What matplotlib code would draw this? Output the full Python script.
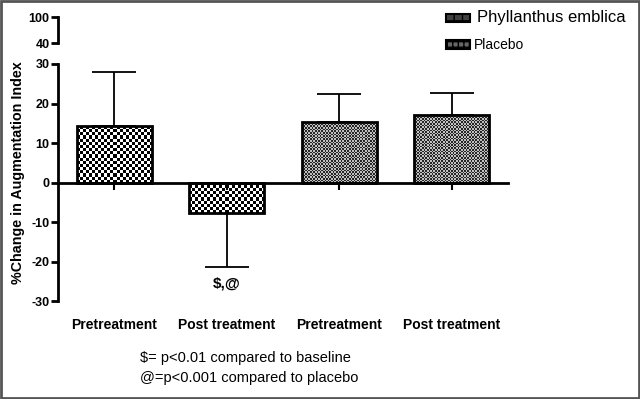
import numpy as np
import matplotlib.pyplot as plt
from matplotlib.patches import Rectangle

plt.rcParams["font.family"] = ["Liberation Sans", "DejaVu Sans"]

groups = ["Pretreatment", "Post treatment", "Pretreatment", "Post treatment"]
means = [14.4, -7.8, 15.3, 17.2]
errors = [13.7, 13.7, 7.1, 5.4]
treatment = ["Phyllanthus emblica", "Phyllanthus emblica", "Placebo", "Placebo"]
main_ticks = [-30, -20, -10, 0, 10, 20, 30]
top_ticks = [40, 100]
footnotes = ["$= p<0.01 compared to baseline", "@=p<0.001 compared to placebo"]

# checker textures: (cell size in px, light colour, dark colour)
textures = {
    "Phyllanthus emblica": (3.0, 1.0, 0.0),
    "Placebo": (1.6, 0.75, 0.15),
}


def checker(ax, patch, cell_px, light, dark):
    x0, y0 = patch.get_x(), patch.get_y()
    w, h = patch.get_width(), patch.get_height()
    p0 = ax.transData.transform((x0, y0))
    p1 = ax.transData.transform((x0 + w, y0 + h))
    nx = max(1, int(abs(p1[0] - p0[0]) / cell_px))
    ny = max(1, int(abs(p1[1] - p0[1]) / cell_px))
    ii, jj = np.indices((ny, nx))
    img = np.where((ii + jj) % 2 == 0, light, dark)
    ymin, ymax = sorted([y0, y0 + h])
    im = ax.imshow(img, cmap="gray", vmin=0, vmax=1, interpolation="nearest",
                   extent=(x0, x0 + w, ymin, ymax), aspect="auto", zorder=1)
    im.set_clip_path(patch)


fig = plt.figure(figsize=(6.4, 3.99), dpi=100)
ax = fig.add_axes([0.0906, 0.2456, 0.703, 0.594])
ax_top = fig.add_axes([0.0906, 0.892, 0.703, 0.065])

x = np.arange(len(means))
bars = ax.bar(x, means, width=0.67, facecolor="none", edgecolor="black",
              linewidth=2, zorder=2)
ax.set_xlim(-0.5, 3.5)
ax.set_ylim(-30, 30)
for b, t in zip(bars, treatment):
    checker(ax, b, *textures[t])

# one-sided error bars
lower = [e if m < 0 else 0 for m, e in zip(means, errors)]
upper = [e if m >= 0 else 0 for m, e in zip(means, errors)]
ax.errorbar(x, means, yerr=[lower, upper], fmt="none", ecolor="black",
            elinewidth=1.3, capsize=16, capthick=1.3, zorder=0)

ax.spines["top"].set_visible(False)
ax.spines["right"].set_visible(False)
ax.spines["left"].set_linewidth(2)
ax.spines["bottom"].set_position(("data", 0))
ax.spines["bottom"].set_linewidth(2)
ax.spines["bottom"].set_zorder(3)
ax.set_yticks(main_ticks)
ax.set_yticklabels([str(t) for t in main_ticks], fontsize=9, fontweight="bold")
ax.tick_params(axis="y", length=5, width=2, pad=1)
ax.set_xticks(x)
ax.set_xticklabels([])
ax.tick_params(axis="x", length=5, width=1.5, direction="out")
ax.set_ylabel("%Change in Augmentation Index", fontsize=10.3, fontweight="bold")
ax.yaxis.set_label_coords(-0.073, 0.54)

for xi, g in zip(x, groups):
    ax.text(xi, -0.10, g, transform=ax.get_xaxis_transform(), ha="center",
            va="center", fontsize=10, fontweight="bold")

ax.text(x[1], means[1] - errors[1] - 2.3, r"\$,@", ha="center", va="top",
        fontsize=11, fontweight="bold")

# broken-off upper segment of the y axis
ax_top.set_ylim(40, 100)
ax_top.set_xlim(0, 1)
for s in ["top", "right", "bottom"]:
    ax_top.spines[s].set_visible(False)
ax_top.spines["left"].set_linewidth(2)
ax_top.set_xticks([])
ax_top.set_yticks(top_ticks)
ax_top.set_yticklabels([str(t) for t in top_ticks], fontsize=9, fontweight="bold")
ax_top.tick_params(axis="y", length=5, width=2, pad=1)
ax_top.patch.set_alpha(0)

# legend drawn by hand (entries use different sizes in the original)
legend_rows = [(0.955, 12), (0.888, 10)]
for (yy, fs), name in zip(legend_rows, ["Phyllanthus emblica", "Placebo"]):
    cell, light, dark = textures[name]
    fig.patches.append(Rectangle((0.697, yy - 0.011), 0.038, 0.022,
                                 transform=fig.transFigure,
                                 facecolor=str(dark + 0.25 if dark < 0.5 else dark),
                                 edgecolor="black", linewidth=1.5,
                                 hatch="+++" if name == "Placebo" else "++"))
    fig.text(0.745 if name != "Placebo" else 0.740, yy, name, fontsize=fs,
             va="center", ha="left")

fig.text(0.219, 0.103, footnotes[0], fontsize=10.5, va="center", ha="left")
fig.text(0.219, 0.053, footnotes[1], fontsize=10.5, va="center", ha="left")

fig.patches.append(Rectangle((0.002, 0.003), 0.996, 0.994,
                             transform=fig.transFigure, fill=False,
                             edgecolor="#555555", linewidth=2))

fig.savefig("out.png", dpi=100)
